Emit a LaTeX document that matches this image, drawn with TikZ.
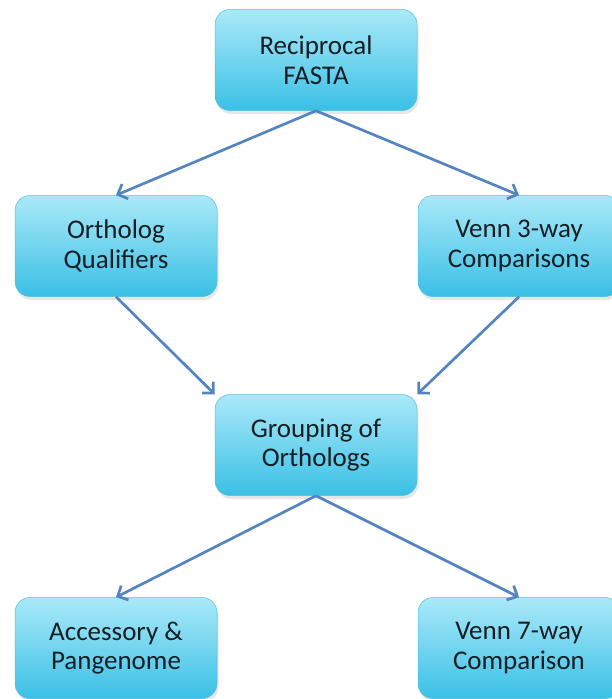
\documentclass[tikz,border=0pt]{standalone}
\usepackage{fontspec}
\setmainfont{Carlito}
\usetikzlibrary{arrows.meta,shadows}
\definecolor{boxtop}{RGB}{170,233,248}
\definecolor{boxbot}{RGB}{58,192,230}
\definecolor{boxedge}{RGB}{85,188,222}
\definecolor{flow}{RGB}{84,133,192}
\definecolor{ink}{RGB}{22,30,36}
\begin{document}
\begin{tikzpicture}[x=1pt,y=-1pt,
  stepbox/.style={rectangle, rounded corners=15pt,
    minimum width=202pt, minimum height=101pt,
    top color=boxtop, bottom color=boxbot,
    draw=boxedge, line width=0.5pt,
    align=center, text=ink, font=\fontsize{27}{29.5}\selectfont,
    drop shadow={opacity=0.2, shadow xshift=1.5pt, shadow yshift=-3.5pt}},
  flowline/.style={draw=flow, line width=2.7pt,
    -{Straight Barb[length=8pt,width=16pt]}}]
\useasboundingbox (0,0) rectangle (611,699);

% steps of the workflow
\node[stepbox] (fasta)  at (316,60)  {Reciprocal\\FASTA};
\node[stepbox] (qual)   at (116,246) {Ortholog\\Qualifiers};
\node[stepbox] (venn3)  at (519,246) {Venn 3-way\\Comparisons};
\node[stepbox] (group)  at (316,445) {Grouping of\\Orthologs};
\node[stepbox] (pan)    at (116,648) {Accessory \&\\Pangenome};
\node[stepbox] (venn7)  at (519,648) {Venn 7-way\\Comparison};

% connectors
\draw[flowline] (fasta.south) -- (qual.north);
\draw[flowline] (fasta.south) -- (venn3.north);
\draw[flowline] (qual.south)  -- (group.north west);
\draw[flowline] (venn3.south) -- (group.north east);
\draw[flowline] (group.south) -- (pan.north);
\draw[flowline] (group.south) -- (venn7.north);
\end{tikzpicture}
\end{document}
